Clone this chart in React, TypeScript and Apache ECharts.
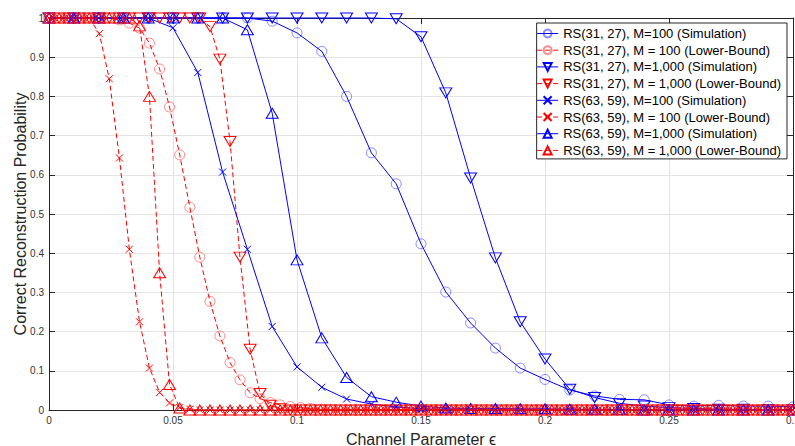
import React, { useEffect, useRef } from "react";
import * as echarts from "echarts";

// Simulation grid (step 0.01)
const xSim = [0, 0.01, 0.02, 0.03, 0.04, 0.05, 0.06, 0.07, 0.08, 0.09, 0.1, 0.11, 0.12, 0.13, 0.14, 0.15, 0.16, 0.17, 0.18, 0.19, 0.2, 0.21, 0.22, 0.23, 0.24, 0.25, 0.26, 0.27, 0.28, 0.29, 0.3];

// Lower-bound grid (75 points over 0..0.3)
const xLB = [
  0, 0.0041, 0.0081, 0.0122, 0.0162, 0.0203, 0.0243, 0.0284, 0.0324, 0.0365,
  0.0405, 0.0446, 0.0486, 0.0527, 0.0568, 0.0608, 0.0649, 0.0689, 0.073, 0.077,
  0.0811, 0.0851, 0.0892, 0.0932, 0.0973, 0.1014, 0.1054, 0.1095, 0.1135, 0.1176,
  0.1216, 0.1257, 0.1297, 0.1338, 0.1378, 0.1419, 0.1459, 0.15, 0.1541, 0.1581,
  0.1622, 0.1662, 0.1703, 0.1743, 0.1784, 0.1824, 0.1865, 0.1905, 0.1946, 0.1986,
  0.2027, 0.2068, 0.2108, 0.2149, 0.2189, 0.223, 0.227, 0.2311, 0.2351, 0.2392,
  0.2432, 0.2473, 0.2514, 0.2554, 0.2595, 0.2635, 0.2676, 0.2716, 0.2757, 0.2797,
  0.2838, 0.2878, 0.2919, 0.2959, 0.3,
];

const sim31_100 = [1, 1, 1, 1, 1, 1, 1, 1, 1, 0.992, 0.962, 0.915, 0.8, 0.656, 0.577, 0.424, 0.301, 0.222, 0.158, 0.107, 0.078, 0.051, 0.036, 0.027, 0.026, 0.013, 0.01, 0.012, 0.01, 0.01, 0.008];

const lb31_100 = [
  1, 1, 1, 1, 1, 1, 1, 0.995, 0.987, 0.974,
  0.936, 0.87, 0.773, 0.651, 0.517, 0.39, 0.277, 0.189, 0.121, 0.077,
  0.044, 0.029, 0.019, 0.013, 0.009, 0.006, 0.004, 0.002, 0.001, 0,
  0, 0, 0, 0, 0, 0, 0, 0, 0, 0,
  0, 0, 0, 0, 0, 0, 0, 0, 0, 0,
  0, 0, 0, 0, 0, 0, 0, 0, 0, 0,
  0, 0, 0, 0, 0, 0, 0, 0, 0, 0,
  0, 0, 0, 0, 0,
];

const sim31_1000 = [1, 1, 1, 1, 1, 1, 1, 1, 1, 1, 1, 1, 1, 1, 0.998, 0.952, 0.809, 0.592, 0.388, 0.225, 0.13, 0.053, 0.032, 0.017, 0.01, 0.006, 0.004, 0.002, 0.002, 0.001, 0.001];

const lb31_1000 = [
  1, 1, 1, 1, 1, 1, 1, 1, 1, 1,
  1, 1, 1, 1, 1, 1, 0.978, 0.895, 0.685, 0.39,
  0.155, 0.042, 0.012, 0.003, 0, 0, 0, 0, 0, 0,
  0, 0, 0, 0, 0, 0, 0, 0, 0, 0,
  0, 0, 0, 0, 0, 0, 0, 0, 0, 0,
  0, 0, 0, 0, 0, 0, 0, 0, 0, 0,
  0, 0, 0, 0, 0, 0, 0, 0, 0, 0,
  0, 0, 0, 0, 0,
];

const sim63_100 = [1, 1, 1, 1, 1, 0.975, 0.861, 0.607, 0.41, 0.213, 0.11, 0.058, 0.028, 0.015, 0.008, 0.003, 0.002, 0.001, 0, 0, 0, 0, 0, 0, 0, 0, 0, 0, 0, 0, 0];

const lb63_100 = [
  1, 1, 1, 1, 1, 0.96, 0.845, 0.643, 0.41, 0.225,
  0.107, 0.045, 0.018, 0.006, 0.002, 0, 0, 0, 0, 0,
  0, 0, 0, 0, 0, 0, 0, 0, 0, 0,
  0, 0, 0, 0, 0, 0, 0, 0, 0, 0,
  0, 0, 0, 0, 0, 0, 0, 0, 0, 0,
  0, 0, 0, 0, 0, 0, 0, 0, 0, 0,
  0, 0, 0, 0, 0, 0, 0, 0, 0, 0,
  0, 0, 0, 0, 0,
];

const sim63_1000 = [1, 1, 1, 1, 1, 1, 1, 1, 0.97, 0.757, 0.383, 0.184, 0.083, 0.034, 0.02, 0.01, 0.005, 0.004, 0.004, 0.003, 0.003, 0.002, 0.002, 0.001, 0, 0, 0, 0, 0, 0, 0];

const lb63_1000 = [
  1, 1, 1, 1, 1, 1, 1, 1, 1, 0.98,
  0.8, 0.35, 0.065, 0.005, 0, 0, 0, 0, 0, 0,
  0, 0, 0, 0, 0, 0, 0, 0, 0, 0,
  0, 0, 0, 0, 0, 0, 0, 0, 0, 0,
  0, 0, 0, 0, 0, 0, 0, 0, 0, 0,
  0, 0, 0, 0, 0, 0, 0, 0, 0, 0,
  0, 0, 0, 0, 0, 0, 0, 0, 0, 0,
  0, 0, 0, 0, 0,
];

const names = [
  "RS(31, 27), M=100 (Simulation)",
  "RS(31, 27), M = 100 (Lower-Bound)",
  "RS(31, 27), M=1,000 (Simulation)",
  "RS(31, 27), M = 1,000 (Lower-Bound)",
  "RS(63, 59), M=100 (Simulation)",
  "RS(63, 59), M = 100 (Lower-Bound)",
  "RS(63, 59), M=1,000 (Simulation)",
  "RS(63, 59), M = 1,000 (Lower-Bound)",
];

const BLUE = "#0000ff";
const RED = "#ff0000";
const XPATH = "path://M0,0L10,10M10,0L0,10";

function pairs(xs: number[], ys: number[]) {
  return xs.map((x, i) => [x, ys[i]]);
}

type Mk = "circle" | "tri" | "nabla" | "x";

function mkSeries(name: string, xs: number[], ys: number[], color: string, dashed: boolean, mk: Mk) {
  let symbol = "circle";
  let symbolSize: any = 10;
  let symbolRotate = 0;
  let border = color;
  if (mk === "circle") {
    symbol = "circle";
    symbolSize = 10;
    border = color === BLUE ? "rgba(0,0,255,0.45)" : "rgba(255,0,0,0.45)";
  } else if (mk === "tri") {
    symbol = "triangle";
    symbolSize = [12, 10];
  } else if (mk === "nabla") {
    symbol = "triangle";
    symbolSize = [12, 10];
    symbolRotate = 180;
  } else {
    symbol = XPATH;
    symbolSize = 7;
  }
  return {
    name,
    type: "line",
    data: pairs(xs, ys),
    symbol,
    symbolSize,
    symbolRotate,
    showAllSymbol: true,
    clip: false,
    lineStyle: { color, width: 1, type: dashed ? [5, 3] : "solid" },
    itemStyle: { color: "rgba(0,0,0,0)", borderColor: border, borderWidth: 1 },
    emphasis: { disabled: true },
  };
}

export default function App() {
  const ref = useRef<HTMLDivElement>(null);
  useEffect(() => {
    if (!ref.current) return;
    const chart = echarts.init(ref.current, undefined, { renderer: "svg" });
    const axisColor = "#262626";
    const labelStyle = { color: "#333", fontSize: 10, fontFamily: "Liberation Sans", margin: 5 };
    const option: any = {
      animation: false,
      backgroundColor: "#fff",
      grid: { left: 49, right: 2, top: 18, bottom: 36, show: false, outerBoundsMode: "none", containLabel: false },
      legend: {
        orient: "vertical",
        right: 8,
        top: 23,
        padding: [4, 6, 2, 0],
        itemGap: 3.7,
        itemWidth: 21,
        itemHeight: 10,
        backgroundColor: "#fff",
        borderColor: axisColor,
        borderWidth: 1,
        lineStyle: { width: 1 },
        textStyle: { fontSize: 13, fontFamily: "Liberation Sans", color: "#000" },
        data: names,
      },
      xAxis: [
        {
          type: "value",
          min: 0,
          max: 0.3,
          interval: 0.05,
          name: "Channel Parameter ϵ",
          nameLocation: "middle",
          nameGap: 21,
          nameMoveOverlap: false,
          nameTextStyle: {
            fontSize: 16,
            lineHeight: 16,
            fontFamily: "Liberation Sans",
            color: "#262626",
          },
          axisLine: { show: true, onZero: false, lineStyle: { color: axisColor, width: 1 } },
          axisTick: { show: true, inside: true, length: 6, lineStyle: { color: axisColor } },
          axisLabel: labelStyle,
          splitLine: { show: true, lineStyle: { color: "#e3e3e3", width: 1 } },
        },
        {
          type: "value",
          position: "top",
          min: 0,
          max: 0.3,
          interval: 0.05,
          axisLine: { show: true, onZero: false, lineStyle: { color: axisColor, width: 1 } },
          axisTick: { show: true, inside: true, length: 6, lineStyle: { color: axisColor } },
          axisLabel: { show: false },
          splitLine: { show: false },
        },
      ],
      yAxis: [
        {
          type: "value",
          min: 0,
          max: 1,
          interval: 0.1,
          name: "Correct Reconstruction Probability",
          nameLocation: "middle",
          nameGap: 21,
          nameMoveOverlap: false,
          nameTextStyle: { fontSize: 16, fontFamily: "Liberation Sans", color: "#262626" },
          axisLine: { show: true, onZero: false, lineStyle: { color: axisColor, width: 1 } },
          axisTick: { show: true, inside: true, length: 6, lineStyle: { color: axisColor } },
          axisLabel: labelStyle,
          splitLine: { show: true, lineStyle: { color: "#e3e3e3", width: 1 } },
        },
        {
          type: "value",
          position: "right",
          min: 0,
          max: 1,
          interval: 0.1,
          axisLine: { show: true, onZero: false, lineStyle: { color: axisColor, width: 1 } },
          axisTick: { show: true, inside: true, length: 6, lineStyle: { color: axisColor } },
          axisLabel: { show: false },
          splitLine: { show: false },
        },
      ],
      series: [
        mkSeries(names[0], xSim, sim31_100, BLUE, false, "circle"),
        mkSeries(names[1], xLB, lb31_100, RED, true, "circle"),
        mkSeries(names[2], xSim, sim31_1000, BLUE, false, "nabla"),
        mkSeries(names[3], xLB, lb31_1000, RED, true, "nabla"),
        mkSeries(names[4], xSim, sim63_100, BLUE, false, "x"),
        mkSeries(names[5], xLB, lb63_100, RED, true, "x"),
        mkSeries(names[6], xSim, sim63_1000, BLUE, false, "tri"),
        mkSeries(names[7], xLB, lb63_1000, RED, true, "tri"),
      ],
    };
    chart.setOption(option);
    return () => chart.dispose();
  }, []);
  return (
    <div
      ref={ref}
      style={{ position: "absolute", left: 0, top: 0, width: 795, height: 446 }}
    />
  );
}
